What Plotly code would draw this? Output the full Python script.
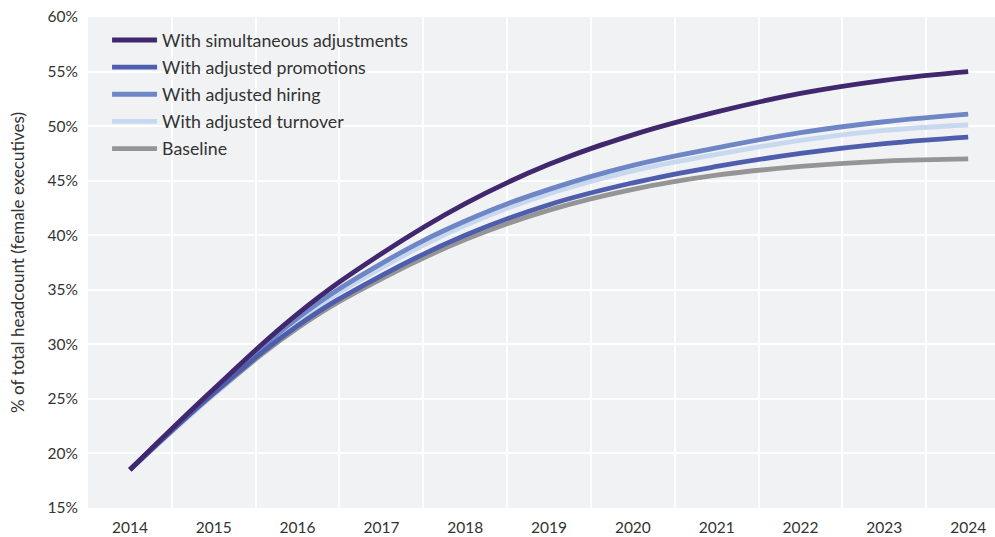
import plotly.graph_objects as go

years = [2014, 2015, 2016, 2017, 2018, 2019, 2020, 2021, 2022, 2023, 2024]
simultaneous = [18.5, 25.9, 32.8, 38.3, 42.9, 46.5, 49.2, 51.3, 53.0, 54.2, 55.0]
promotions = [18.5, 25.5, 31.7, 36.3, 40.0, 42.8, 44.8, 46.3, 47.5, 48.4, 49.0]
hiring = [18.5, 25.7, 32.4, 37.4, 41.3, 44.2, 46.4, 48.0, 49.4, 50.4, 51.1]
turnover = [18.5, 25.4, 32.1, 37.0, 40.9, 43.8, 45.9, 47.4, 48.7, 49.6, 50.1]
baseline = [18.5, 25.4, 31.5, 36.0, 39.6, 42.3, 44.2, 45.5, 46.3, 46.8, 47.0]

series = [
    ("Baseline", baseline, "#959595", 5),
    ("With adjusted turnover", turnover, "#c8d8ef", 4),
    ("With adjusted hiring", hiring, "#6e86c5", 3),
    ("With adjusted promotions", promotions, "#4e5eac", 2),
    ("With simultaneous adjustments", simultaneous, "#41286e", 1),
]

fig = go.Figure()
for name, vals, color, rank in series:
    fig.add_trace(go.Scatter(
        x=years, y=vals, name=name, mode="lines",
        line=dict(color=color, width=4.8, shape="spline", smoothing=1.2),
        legendrank=rank, legendgroup=name,
    ))

fig.update_layout(
    width=995, height=537,
    margin=dict(l=88, r=0, t=17, b=29, autoexpand=False),
    paper_bgcolor="white",
    plot_bgcolor="#f1f2f4",
    font=dict(family="Lato, 'Open Sans', sans-serif", color="#333333", size=15),
    showlegend=True,
    legend=dict(
        x=0.021, y=0.99, xanchor="left", yanchor="top",
        bgcolor="rgba(0,0,0,0)",
        font=dict(size=17.8, color="#333333"),
        tracegroupgap=1,
        itemwidth=45,
    ),
    xaxis=dict(
        range=[2013.5, 2024.32], automargin=False,
        tickmode="array", tickvals=years, ticktext=[str(y) for y in years],
        showgrid=False, zeroline=False, ticks="", showline=False,
        ticklabelstandoff=8,
        tickfont=dict(size=15.5, color="#333333"),
        minor=dict(tickmode="linear", tick0=2013.5, dtick=1, showgrid=True,
                   gridcolor="white", gridwidth=1.5, ticks=""),
    ),
    yaxis=dict(
        range=[15, 60], dtick=5, tick0=15, ticksuffix="%", automargin=False,
        showgrid=True, gridcolor="white", gridwidth=1.5,
        zeroline=False, ticks="", showline=False,
        ticklabelstandoff=9,
        tickfont=dict(size=15.5, color="#333333"),
        title=dict(text="% of total headcount (female executives)",
                   font=dict(size=17, color="#333333"), standoff=18),
    ),
)

fig.write_html("out.html", config={"displayModeBar": False},
               post_script="document.body.style.margin='0';")
